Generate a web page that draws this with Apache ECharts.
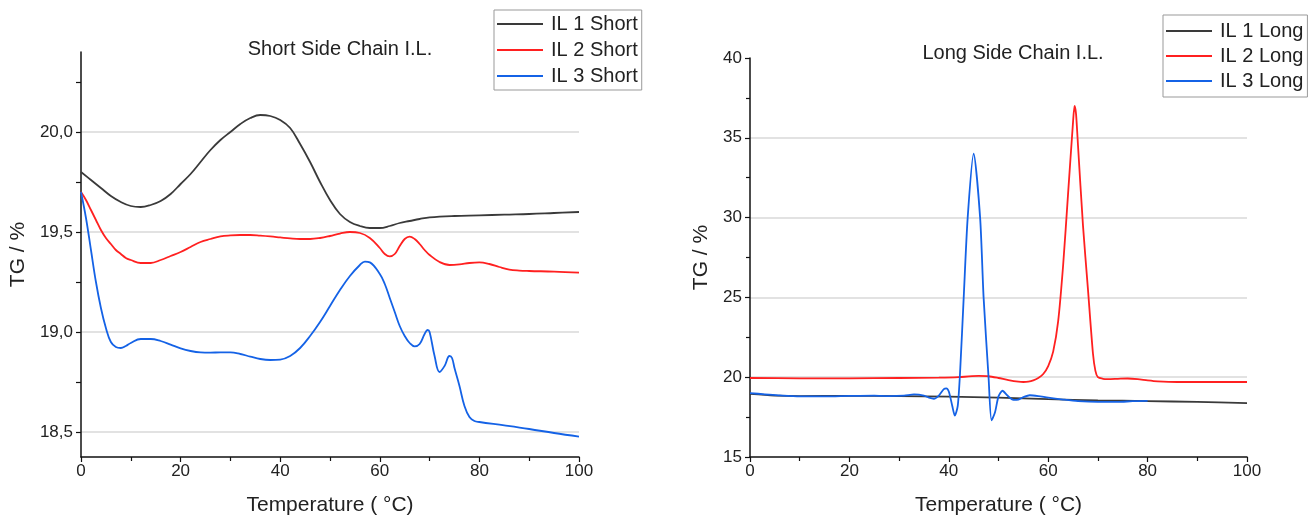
<!DOCTYPE html>
<html>
<head>
<meta charset="utf-8">
<script src="https://cdn.jsdelivr.net/npm/echarts@6/dist/echarts.min.js"></script>
<style>
html,body{margin:0;padding:0;background:#fff;}
#c{width:1316px;height:522px;}
</style>
</head>
<body>
<div id="c"></div>
<script>
// ---- Data: Short Side Chain I.L. ----
const il1ShortT = [0,2,4,6,8,10,12,14,16,18,20,22,24,26,28,30,32,34,36,38,40,42,44,46,48,50,52,54,56,58,60,62,64,66,68,70,75,80,85,90,95,100];
const il1ShortY = [19.80,19.76,19.72,19.68,19.65,19.63,19.625,19.635,19.655,19.69,19.74,19.79,19.85,19.91,19.96,20.00,20.04,20.07,20.085,20.08,20.06,20.02,19.94,19.85,19.75,19.66,19.59,19.55,19.53,19.52,19.52,19.53,19.545,19.555,19.565,19.573,19.58,19.583,19.587,19.59,19.595,19.60];

const il2ShortT = [0,1,2,3,4,5,6,7,8,9,10,12,14,16,18,20,22,24,26,28,30,32,34,36,38,40,42,44,46,48,50,52,54,56,58,60,61,62,63,64,65,66,67,68,69,70,72,74,76,78,80,82,84,86,88,90,95,100];
const il2ShortY = [19.70,19.66,19.61,19.56,19.51,19.47,19.44,19.41,19.39,19.37,19.36,19.345,19.345,19.36,19.38,19.40,19.425,19.45,19.465,19.478,19.483,19.485,19.485,19.482,19.478,19.473,19.468,19.465,19.465,19.47,19.48,19.492,19.50,19.495,19.47,19.42,19.39,19.378,19.39,19.43,19.465,19.477,19.465,19.44,19.41,19.385,19.35,19.335,19.338,19.345,19.348,19.34,19.325,19.312,19.307,19.305,19.302,19.297];

const il3ShortT = [0,1,2,3,4,5,6,7,8,9,10,12,14,16,18,20,22,24,26,28,30,32,34,36,38,40,42,44,46,48,50,52,54,56,57,58,60,61,62,63,64,65,66,67,68,69,69.6,70,71,72,73,74,74.5,75,76,77,78,79,80,85,90,95,100];
const il3ShortY = [19.70,19.57,19.41,19.25,19.12,19.02,18.95,18.925,18.92,18.93,18.945,18.965,18.965,18.955,18.937,18.918,18.905,18.898,18.897,18.898,18.898,18.89,18.877,18.865,18.86,18.862,18.88,18.92,18.98,19.05,19.13,19.21,19.28,19.335,19.352,19.348,19.29,19.24,19.17,19.10,19.03,18.98,18.945,18.928,18.94,18.99,19.01,19.00,18.88,18.80,18.83,18.88,18.87,18.82,18.73,18.63,18.575,18.555,18.55,18.533,18.515,18.495,18.477];

// ---- Data: Long Side Chain I.L. ----
const il1LongT = [0,5,10,20,30,40,50,60,70,80,90,100];
const il1LongY = [18.95,18.85,18.82,18.83,18.82,18.78,18.72,18.62,18.55,18.50,18.45,18.38];

const il2LongT = [0,10,20,30,38,42,44,46,48,50,52,54,55,56,57,58,59,60,61,62,63,64,65,65.3,65.6,66,67,68,69,69.5,70,71,72,74,76,78,80,82,86,90,95,100];
const il2LongY = [19.95,19.93,19.93,19.95,19.97,20.00,20.05,20.08,20.06,19.95,19.82,19.72,19.70,19.72,19.80,19.95,20.20,20.70,21.60,23.50,27.00,31.50,36.00,37.00,36.50,34.50,29.50,25.50,21.50,20.40,20.00,19.90,19.88,19.90,19.92,19.88,19.80,19.74,19.70,19.70,19.70,19.70];

const il3LongT = [0,3,6,10,15,20,25,28,31,33,35,36,37,38,39,39.5,40,40.7,41.2,41.8,42.3,43,43.8,45,46.3,47,48,48.6,49.3,50,50.8,51.8,53,54,55,56.3,58,60,63,66,70,74,77,80];
const il3LongY = [19.00,18.93,18.86,18.80,18.80,18.83,18.85,18.82,18.85,18.92,18.85,18.72,18.65,18.85,19.25,19.30,19.10,18.20,17.60,18.20,20.50,25.00,30.00,34.00,30.00,25.00,20.00,17.30,17.80,18.80,19.15,18.85,18.58,18.60,18.75,18.87,18.82,18.72,18.60,18.50,18.45,18.45,18.50,18.52];

// ---- Tick labels ----
const xTickLabels = ['0','20','40','60','80','100'];
const yShortLabels = {'18.5':'18,5','19':'19,0','19.5':'19,5','20':'20,0'};

const pairs = (t, y) => t.map((v, i) => [v, y[i]]);
const FONT = 'Liberation Sans, Arial, sans-serif';
const TXT = '#222';
const C1 = '#3a3a3a', C2 = '#ff2020', C3 = '#1462e6';

const chart = echarts.init(document.getElementById('c'), null, {renderer: 'canvas'});

function xAxisDef(gridIndex) {
  return {
    type: 'value', gridIndex, min: 0, max: 100, interval: 20,
    name: 'Temperature ( °C)', nameLocation: 'middle', nameGap: 38,
    nameTextStyle: {fontSize: 21, color: TXT, fontFamily: FONT},
    axisLine: {show: true, onZero: false, lineStyle: {color: '#111', width: 1.5}},
    axisTick: {show: true, length: 5, lineStyle: {color: '#111', width: 1.2}},
    minorTick: {show: true, splitNumber: 2, length: 4, lineStyle: {color: '#111', width: 1.2}},
    axisLabel: {fontSize: 17, color: TXT, fontFamily: FONT, margin: 6,
      formatter: v => xTickLabels[Math.round(v / 20)]},
    splitLine: {show: false}
  };
}

const legendText = {fontSize: 20, lineHeight: 20, color: TXT, fontFamily: FONT, padding: [0, 0, 0, 3]};

const option = {
  animation: false,
  backgroundColor: '#fff',
  title: [
    {text: 'Short Side Chain I.L.', left: 335, top: 34, textAlign: 'center',
     textStyle: {fontSize: 20, fontWeight: 'normal', color: TXT, fontFamily: FONT}},
    {text: 'Long Side Chain I.L.', left: 1008, top: 38, textAlign: 'center',
     textStyle: {fontSize: 20, fontWeight: 'normal', color: TXT, fontFamily: FONT}}
  ],
  legend: [
    {data: ['IL 1 Short', 'IL 2 Short', 'IL 3 Short'], orient: 'vertical',
     left: 494, top: 10, padding: [4, 4, 4, 3], itemGap: 6,
     itemWidth: 46, itemHeight: 2, icon: 'rect',
     borderColor: '#999', borderWidth: 1, textStyle: legendText},
    {data: ['IL 1 Long', 'IL 2 Long', 'IL 3 Long'], orient: 'vertical',
     left: 1163, top: 15, padding: [6, 4, 6, 3], itemGap: 5,
     itemWidth: 46, itemHeight: 2, icon: 'rect',
     borderColor: '#999', borderWidth: 1, textStyle: legendText}
  ],
  grid: [
    {left: 81, top: 52, width: 498, height: 405},
    {left: 750, top: 58, width: 497, height: 399}
  ],
  xAxis: [xAxisDef(0), xAxisDef(1)],
  yAxis: [
    {type: 'value', gridIndex: 0, min: 18.375, max: 20.4, minInterval: 0.25, maxInterval: 0.25,
     name: 'TG / %', nameLocation: 'middle', nameGap: 52, nameRotate: 90,
     nameTextStyle: {fontSize: 21, color: TXT, fontFamily: FONT},
     axisLine: {show: true, onZero: false, lineStyle: {color: '#111', width: 1.5}},
     axisTick: {show: true, length: 5, lineStyle: {color: '#111', width: 1.2}},
     axisLabel: {fontSize: 17, color: TXT, fontFamily: FONT, margin: 8,
       showMinLabel: false, showMaxLabel: false,
       formatter: v => { const k = String(Math.round(v * 100) / 100); return yShortLabels[k] || ''; }},
     splitLine: {show: false}},
    {type: 'value', gridIndex: 0, min: 18.375, max: 20.4, minInterval: 0.5, maxInterval: 0.5,
     axisLine: {show: false}, axisTick: {show: false}, axisLabel: {show: false},
     splitLine: {show: true, showMinLine: false, showMaxLine: false, lineStyle: {color: '#d9d9d9', width: 1.5}}},
    {type: 'value', gridIndex: 1, min: 15, max: 40, interval: 5,
     name: 'TG / %', nameLocation: 'middle', nameGap: 38, nameRotate: 90,
     nameTextStyle: {fontSize: 21, color: TXT, fontFamily: FONT},
     axisLine: {show: true, onZero: false, lineStyle: {color: '#111', width: 1.5}},
     axisTick: {show: true, length: 5, lineStyle: {color: '#111', width: 1.2}},
     minorTick: {show: true, splitNumber: 2, length: 4, lineStyle: {color: '#111', width: 1.2}},
     axisLabel: {fontSize: 17, color: TXT, fontFamily: FONT, margin: 8},
     splitLine: {show: true, showMinLine: false, showMaxLine: false, lineStyle: {color: '#d9d9d9', width: 1.5}}}
  ],
  series: [
    {name: 'IL 1 Short', type: 'line', xAxisIndex: 0, yAxisIndex: 0, data: pairs(il1ShortT, il1ShortY),
     showSymbol: false, symbol: 'none', smooth: 0.4, lineStyle: {color: C1, width: 1.8}, itemStyle: {color: C1}},
    {name: 'IL 2 Short', type: 'line', xAxisIndex: 0, yAxisIndex: 0, data: pairs(il2ShortT, il2ShortY),
     showSymbol: false, symbol: 'none', smooth: 0.4, lineStyle: {color: C2, width: 1.8}, itemStyle: {color: C2}},
    {name: 'IL 3 Short', type: 'line', xAxisIndex: 0, yAxisIndex: 0, data: pairs(il3ShortT, il3ShortY),
     showSymbol: false, symbol: 'none', smooth: 0.4, lineStyle: {color: C3, width: 1.8}, itemStyle: {color: C3}},
    {name: 'IL 1 Long', type: 'line', xAxisIndex: 1, yAxisIndex: 2, data: pairs(il1LongT, il1LongY),
     showSymbol: false, symbol: 'none', smooth: 0.3, lineStyle: {color: C1, width: 1.8}, itemStyle: {color: C1}},
    {name: 'IL 2 Long', type: 'line', xAxisIndex: 1, yAxisIndex: 2, data: pairs(il2LongT, il2LongY),
     showSymbol: false, symbol: 'none', smooth: 0.25, lineStyle: {color: C2, width: 1.8}, itemStyle: {color: C2}},
    {name: 'IL 3 Long', type: 'line', xAxisIndex: 1, yAxisIndex: 2, data: pairs(il3LongT, il3LongY),
     showSymbol: false, symbol: 'none', smooth: 0.25, lineStyle: {color: C3, width: 1.8}, itemStyle: {color: C3}}
  ]
};
chart.setOption(option);
</script>
</body>
</html>
